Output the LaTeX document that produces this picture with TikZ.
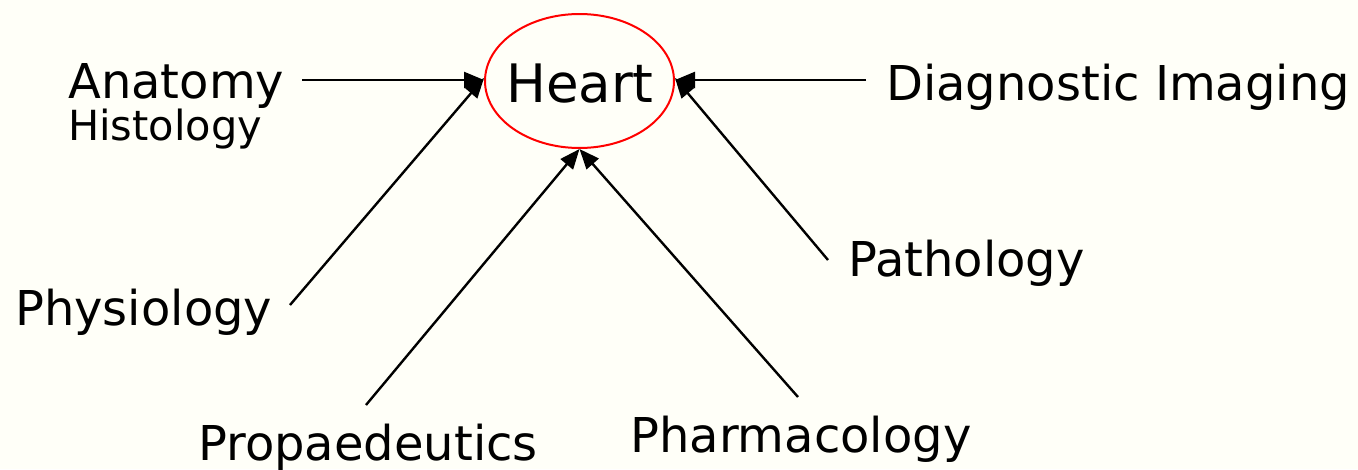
\documentclass[tikz,border=0pt]{standalone}
\usepackage{fontspec}
\setmainfont{DejaVu Sans}
\usetikzlibrary{shapes.geometric,arrows.meta}
\definecolor{bg}{RGB}{255,255,248}
\begin{document}
\begin{tikzpicture}[x=1pt,y=-1pt,
  lbl/.style={anchor=base west,inner sep=0pt,font=\fontsize{48}{48}\selectfont},
  small/.style={anchor=base west,inner sep=0pt,font=\fontsize{41.5}{41.5}\selectfont},
  conn/.style={line width=2.4pt,-{Triangle[length=20pt,width=16pt]}}]
\fill[bg] (0,0) rectangle (1358,469);
\useasboundingbox (0,0) rectangle (1358,469);
\node[ellipse,draw=red,line width=2pt,minimum width=189pt,minimum height=134pt,inner sep=0pt] (heart) at (579.5,81) {};
\node[anchor=base,inner sep=0pt,font=\fontsize{53}{53}\selectfont] (ht) at (580,102) {Heart};
\node[lbl] (anat) at (68,98) {Anatomy};
\node[small] (hist) at (68,140) {Histology};
\node[lbl] (phys) at (15,325) {Physiology};
\node[lbl] (prop) at (198,460) {Propaedeutics};
\node[lbl] (pharm) at (630,452) {Pharmacology};
\node[lbl] (path) at (848,276) {Pathology};
\node[lbl] (diag) at (886,100) {Diagnostic Imaging};
\coordinate (a0) at (302,80);
\coordinate (p0) at (290,305);
\coordinate (pr0) at (366,405);
\coordinate (ph0) at (798,397);
\coordinate (pa0) at (828,260);
\coordinate (d0) at (866,80);
\draw[conn] (a0) -- (heart.west |- a0);
\draw[conn] (p0) -- ([yshift=3pt]heart.west);
\draw[conn] (pr0) -- (heart.south);
\draw[conn] (ph0) -- (heart.south);
\draw[conn] (pa0) -- ([yshift=3pt]heart.east);
\draw[conn] (d0) -- (heart.east |- d0);
\end{tikzpicture}
\end{document}
